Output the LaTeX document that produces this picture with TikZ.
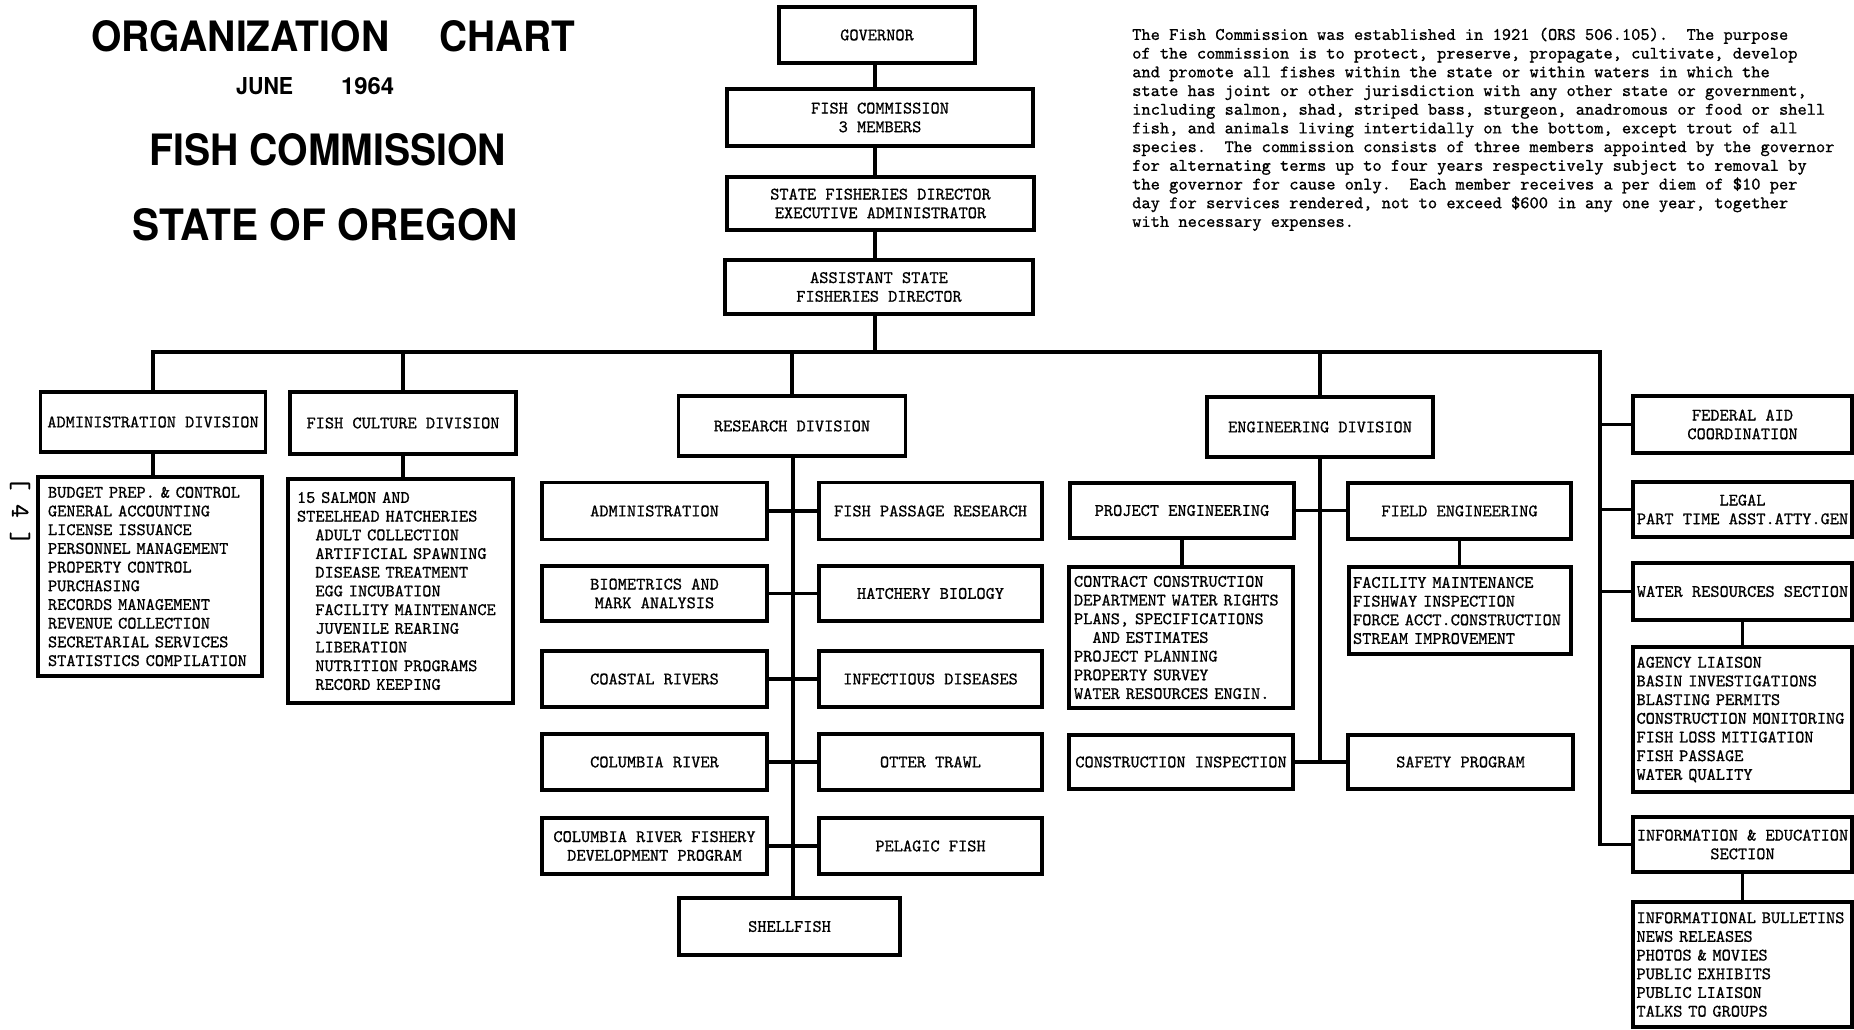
\documentclass[tikz,border=0pt]{standalone}
\usepackage{fontspec}
\usepackage{graphicx}
\newfontfamily\tw{lmmono10-regular.otf}[FakeBold=0.8]
\newfontfamily\titlefont{TeX Gyre Heros}
\frenchspacing
\tikzset{
  bx/.style={draw, line width=3.1pt, inner sep=0pt, align=center,
    font=\tw\fontsize{17.5}{18.7}\selectfont},
  lst/.style={bx, align=left},
  conn/.style={line width=3.7pt},
  ttl/.style={anchor=north west, inner sep=0pt},
}
\begin{document}
\begin{tikzpicture}[x=1pt,y=-1pt]
\fill[white] (0,0) rectangle (1854,1029);
\useasboundingbox (0,0) rectangle (1854,1029);

% ---------- titles ----------
\node[ttl] (t1) at (91,20) {\resizebox{298pt}{31pt}{\titlefont\bfseries ORGANIZATION}};
\node[ttl] (t2) at (439,20) {\resizebox{136pt}{31pt}{\titlefont\bfseries CHART}};
\node[ttl] (t3) at (236,77) {\resizebox{57pt}{17pt}{\titlefont\bfseries JUNE}};
\node[ttl] (t4) at (341,77) {\resizebox{53pt}{17pt}{\titlefont\bfseries 1964}};
\node[ttl] (t5) at (149,133) {\resizebox{357pt}{32pt}{\titlefont\bfseries FISH COMMISSION}};
\node[ttl] (t6) at (132,208) {\resizebox{386pt}{32pt}{\titlefont\bfseries STATE OF OREGON}};

\node[rotate=-90, inner sep=0pt, font=\tw\fontsize{26}{26}\selectfont] (pg) at (20,511) {[ 4 ]};

% ---------- paragraph ----------
\node[anchor=north west, inner sep=0pt, align=left,
  font=\tw\fontsize{17.6}{18.7}\selectfont] (para) at (1132,27.5) {%
The Fish Commission was established in 1921 (ORS 506.105). \ The purpose\\
of the commission is to protect, preserve, propagate, cultivate, develop\\
and promote all fishes within the state or within waters in which the\\
state has joint or other jurisdiction with any other state or government,\\
including salmon, shad, striped bass, sturgeon, anadromous or food or shell\\
fish, and animals living intertidally on the bottom, except trout of all\\
species. \ The commission consists of three members appointed by the governor\\
for alternating terms up to four years respectively subject to removal by\\
the governor for cause only. \ Each member receives a per diem of \$10 per\\
day for services rendered, not to exceed \$600 in any one year, together\\
with necessary expenses.};

% ---------- top chain ----------
\node[bx, minimum width=196pt, minimum height=56pt] (gov) at (877,35) {GOVERNOR};
\node[bx, minimum width=306pt, minimum height=57pt] (comm) at (880,117.5) {FISH COMMISSION\\3 MEMBERS};
\node[bx, minimum width=307pt, minimum height=53pt] (dir) at (880.5,203.5) {STATE FISHERIES DIRECTOR\\EXECUTIVE ADMINISTRATOR};
\node[bx, minimum width=308pt, minimum height=54pt] (asst) at (879,287) {ASSISTANT STATE\\FISHERIES DIRECTOR};

% ---------- divisions ----------
\node[bx, minimum width=225pt, minimum height=60pt] (admdiv) at (153,422) {ADMINISTRATION DIVISION};
\node[bx, minimum width=226pt, minimum height=62pt] (fcdiv) at (403,423) {FISH CULTURE DIVISION};
\node[bx, minimum width=227pt, minimum height=60pt] (resdiv) at (792,426) {RESEARCH DIVISION};
\node[bx, minimum width=226pt, minimum height=60pt] (engdiv) at (1320,427) {ENGINEERING DIVISION};

% ---------- admin and fish culture lists ----------
\node[lst, minimum width=224pt, minimum height=199pt, text width=204pt, inner xsep=10pt] (admlist) at (150,576.5) {%
BUDGET PREP. \& CONTROL\\
GENERAL ACCOUNTING\\
LICENSE ISSUANCE\\
PERSONNEL MANAGEMENT\\
PROPERTY CONTROL\\
PURCHASING\\
RECORDS MANAGEMENT\\
REVENUE COLLECTION\\
SECRETARIAL SERVICES\\
STATISTICS COMPILATION};

\node[lst, minimum width=225pt, minimum height=224pt, text width=207pt, inner xsep=9pt] (fclist) at (400.5,591) {%
15 SALMON AND\\
STEELHEAD HATCHERIES\\
\phantom{MM}ADULT COLLECTION\\
\phantom{MM}ARTIFICIAL SPAWNING\\
\phantom{MM}DISEASE TREATMENT\\
\phantom{MM}EGG INCUBATION\\
\phantom{MM}FACILITY MAINTENANCE\\
\phantom{MM}JUVENILE REARING\\
\phantom{MM}LIBERATION\\
\phantom{MM}NUTRITION PROGRAMS\\
\phantom{MM}RECORD KEEPING};

% ---------- research ----------
\node[bx, minimum width=225pt, minimum height=57pt] (r1L) at (654.5,511) {ADMINISTRATION};
\node[bx, minimum width=225pt, minimum height=55pt] (r2L) at (654.5,593.5) {BIOMETRICS AND\\MARK ANALYSIS};
\node[bx, minimum width=225pt, minimum height=56pt] (r3L) at (654.5,679) {COASTAL RIVERS};
\node[bx, minimum width=225pt, minimum height=56pt] (r4L) at (654.5,762) {COLUMBIA RIVER};
\node[bx, minimum width=225pt, minimum height=56pt] (r5L) at (654.5,846) {COLUMBIA RIVER FISHERY\\DEVELOPMENT PROGRAM};
\node[bx, minimum width=223pt, minimum height=57pt] (r1R) at (930.5,511) {FISH PASSAGE RESEARCH};
\node[bx, minimum width=223pt, minimum height=55pt] (r2R) at (930.5,593.5) {HATCHERY BIOLOGY};
\node[bx, minimum width=223pt, minimum height=56pt] (r3R) at (930.5,679) {INFECTIOUS DISEASES};
\node[bx, minimum width=223pt, minimum height=56pt] (r4R) at (930.5,762) {OTTER TRAWL};
\node[bx, minimum width=223pt, minimum height=56pt] (r5R) at (930.5,846) {PELAGIC FISH};
\node[bx, minimum width=221pt, minimum height=57pt] (shell) at (789.5,926.5) {SHELLFISH};

% ---------- engineering ----------
\node[bx, minimum width=224pt, minimum height=55pt] (pe) at (1182,510.5) {PROJECT ENGINEERING};
\node[bx, minimum width=223pt, minimum height=56pt] (fe) at (1459.5,511) {FIELD ENGINEERING};
\node[lst, minimum width=224pt, minimum height=141pt, text width=214pt, inner xsep=5pt] (pelist) at (1181,637.5) {%
CONTRACT CONSTRUCTION\\
DEPARTMENT WATER RIGHTS\\
PLANS, SPECIFICATIONS\\
\phantom{MM}AND ESTIMATES\\
PROJECT PLANNING\\
PROPERTY SURVEY\\
WATER RESOURCES ENGIN.};
\node[lst, minimum width=222pt, minimum height=87pt, text width=214pt, inner xsep=4pt] (felist) at (1460,610.5) {%
FACILITY MAINTENANCE\\
FISHWAY INSPECTION\\
FORCE ACCT.CONSTRUCTION\\
STREAM IMPROVEMENT};
\node[bx, minimum width=224pt, minimum height=54pt] (ci) at (1181,762) {CONSTRUCTION INSPECTION};
\node[bx, minimum width=225pt, minimum height=54pt] (safety) at (1460.5,762) {SAFETY PROGRAM};

% ---------- right column ----------
\node[bx, minimum width=219pt, minimum height=57pt] (fed) at (1742.5,424.5) {FEDERAL AID\\COORDINATION};
\node[bx, minimum width=219pt, minimum height=55pt] (legal) at (1742.5,509.5) {LEGAL\\PART TIME ASST.ATTY.GEN};
\node[bx, minimum width=219pt, minimum height=57pt] (water) at (1742.5,591.5) {WATER RESOURCES SECTION};
\node[lst, minimum width=219pt, minimum height=145pt, text width=212pt, inner xsep=3.5pt] (wlist) at (1742.5,719.5) {%
AGENCY LIAISON\\
BASIN INVESTIGATIONS\\
BLASTING PERMITS\\
CONSTRUCTION MONITORING\\
FISH LOSS MITIGATION\\
FISH PASSAGE\\
WATER QUALITY};
\node[bx, minimum width=219pt, minimum height=55pt] (ie) at (1742.5,844.5) {INFORMATION \& EDUCATION\\SECTION};
\node[lst, minimum width=219pt, minimum height=125pt, text width=212pt, inner xsep=3.5pt] (ielist) at (1742.5,964.5) {%
INFORMATIONAL BULLETINS\\
NEWS RELEASES\\
PHOTOS \& MOVIES\\
PUBLIC EXHIBITS\\
PUBLIC LIAISON\\
TALKS TO GROUPS};

% ---------- connectors ----------
\coordinate (sp) at (875,352);
\coordinate (busR) at (1600,352);
\coordinate (rs) at (793,0);

\draw[conn] (gov.south -| sp) -- (comm.north -| sp);
\draw[conn] (comm.south -| sp) -- (dir.north -| sp);
\draw[conn] (dir.south -| sp) -- (asst.north -| sp);
\draw[conn] (asst.south -| sp) -- (sp);

\draw[conn] (admdiv.north) -- (admdiv.north |- sp) -- (busR) -- (busR |- ie.west) -- (ie.west);
\draw[conn] (fcdiv.north) -- (fcdiv.north |- sp);
\draw[conn] (resdiv.north) -- (resdiv.north |- sp);
\draw[conn] (engdiv.north) -- (engdiv.north |- sp);

\draw[conn] (admdiv.south) -- (admdiv.south |- admlist.north);
\draw[conn] (fcdiv.south) -- (fcdiv.south |- fclist.north);

\draw[conn] (resdiv.south -| rs) -- (shell.north -| rs);
\foreach \i in {1,...,5} {
  \draw[conn] (r\i L.east) -- (r\i L.east -| r\i R.west);
}

\draw[conn] (engdiv.south) -- (engdiv.south |- ci.east);
\draw[conn] (pe.east) -- (pe.east -| fe.west);
\draw[conn] (ci.east) -- (ci.east -| safety.west);
\draw[conn] (pe.south) -- (pe.south |- pelist.north);
\draw[conn] (fe.south) -- (fe.south |- felist.north);

\draw[conn] (busR |- fed.west) -- (fed.west);
\draw[conn] (busR |- legal.west) -- (legal.west);
\draw[conn] (busR |- water.west) -- (water.west);
\draw[conn] (water.south) -- (wlist.north);
\draw[conn] (ie.south) -- (ielist.north);
\end{tikzpicture}
\end{document}
